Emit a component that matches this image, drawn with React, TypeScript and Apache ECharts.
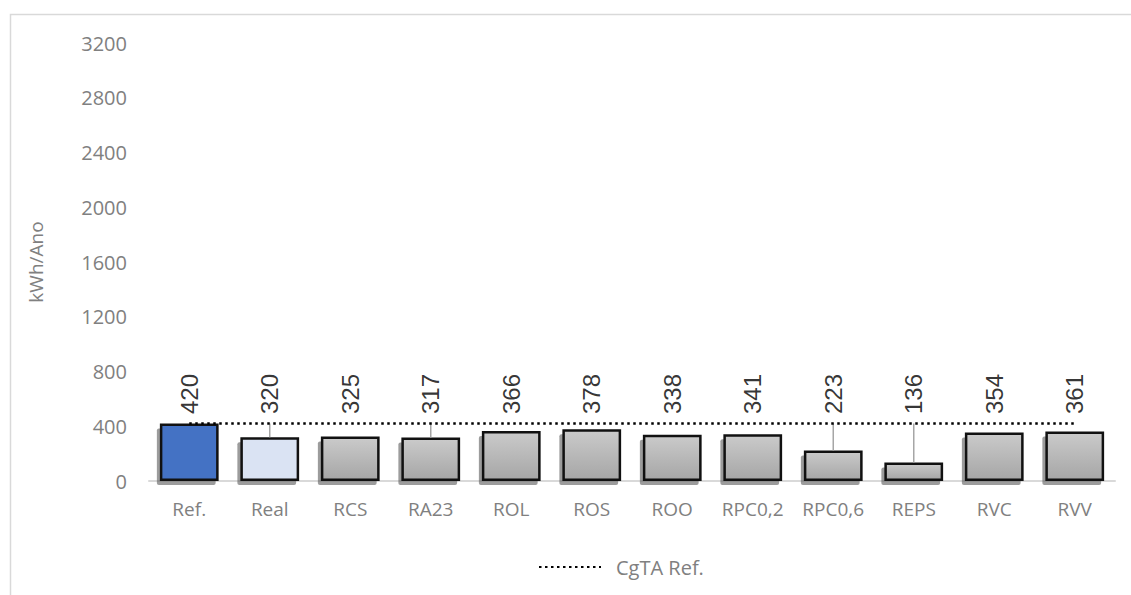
import React, { useEffect, useRef } from "react";
import * as echarts from "echarts";

const categories = ["Ref.", "Real", "RCS", "RA23", "ROL", "ROS", "ROO", "RPC0,2", "RPC0,6", "REPS", "RVC", "RVV"];
const values = [420, 320, 325, 317, 366, 378, 338, 341, 223, 136, 354, 361];
const cgtaRef = [420, 420, 420, 420, 420, 420, 420, 420, 420, 420, 420, 420];
const dropLineCats = ["Real", "RA23", "RPC0,6", "REPS"];
const yTicks = { min: 0, max: 3200, interval: 400 };

const grayGradient = () =>
  new echarts.graphic.LinearGradient(0, 0, 0, 1, [
    { offset: 0, color: "#cacaca" },
    { offset: 1, color: "#a6a6a6" },
  ]);

export default function App() {
  const ref = useRef<HTMLDivElement>(null);
  useEffect(() => {
    if (!ref.current) return;
    const chart = echarts.init(ref.current, undefined, { renderer: "svg" });
    const barData = values.map((v, i) => {
      let color: any = grayGradient();
      if (i === 0) color = "#4472c4";
      if (i === 1) color = "#dae3f3";
      return {
        value: v,
        itemStyle: { color, borderColor: "#111111", borderWidth: 2.5 },
      };
    });
    const shadowData = values.map((v, i) => [i, v]);
    const dropData = categories
      .map((c, i) => (dropLineCats.includes(c) ? [i, values[i], cgtaRef[i]] : null))
      .filter((d) => d !== null);

    chart.setOption({
      animation: false,
      backgroundColor: "#ffffff",
      graphic: [
        {
          type: "rect",
          left: 8,
          top: 12,
          shape: { width: 1300, height: 700 },
          style: { fill: "none", stroke: "#d9d9d9", lineWidth: 1.5 },
          silent: true,
          z: -10,
        },
      ],
      grid: { left: 149, right: 16, top: 43, bottom: 114 },
      legend: {
        show: true,
        top: 552,
        left: 533,
        data: ["CgTA Ref."],
        itemWidth: 62,
        itemHeight: 14,
        itemGap: 8,
        itemStyle: { opacity: 0 },
        textStyle: {
          color: "#808080",
          fontSize: 20,
          fontFamily: "Open Sans",
          padding: [0, 0, 0, 10],
        },
      },
      xAxis: {
        type: "category",
        data: categories,
        axisLine: { show: true, lineStyle: { color: "#d9d9d9", width: 2 } },
        axisTick: { show: false },
        axisLabel: {
          color: "#808080",
          fontSize: 19,
          fontFamily: "Open Sans",
          margin: 18,
          interval: 0,
        },
      },
      yAxis: {
        type: "value",
        min: yTicks.min,
        max: yTicks.max,
        interval: yTicks.interval,
        name: "kWh/Ano",
        nameLocation: "middle",
        nameGap: 104,
        nameTextStyle: { color: "#808080", fontSize: 19, fontFamily: "Open Sans" },
        axisLine: { show: false },
        axisTick: { show: false },
        splitLine: { show: false },
        axisLabel: {
          color: "#808080",
          fontSize: 20,
          fontFamily: "Open Sans",
          margin: 22,
          formatter: (v: number) => String(v),
        },
      },
      series: [
        {
          name: "shadow",
          type: "custom",
          data: shadowData,
          z: 1,
          renderItem: (params: any, api: any) => {
            const top = api.coord([api.value(0), api.value(1)]);
            const base = api.coord([api.value(0), 0]);
            const bw = api.size([1, 0])[0] * 0.73;
            return {
              type: "rect",
              shape: {
                x: top[0] - bw / 2 - 3,
                y: top[1] + 5,
                width: bw,
                height: base[1] - top[1] - 1,
                r: 2,
              },
              style: { fill: "rgba(90,90,90,0.6)" },
            };
          },
        },
        {
          name: "Values",
          type: "bar",
          data: barData,
          barCategoryGap: "27%",
          z: 2,
        },
        {
          name: "drop",
          type: "custom",
          data: dropData,
          z: 3,
          renderItem: (params: any, api: any) => {
            const p1 = api.coord([api.value(0), api.value(2)]);
            const p2 = api.coord([api.value(0), api.value(1)]);
            return {
              type: "line",
              shape: { x1: p1[0], y1: p1[1], x2: p2[0], y2: p2[1] },
              style: { stroke: "#a6a6a6", lineWidth: 1.5 },
            };
          },
        },
        {
          name: "CgTA Ref.",
          type: "line",
          data: cgtaRef,
          symbol: "none",
          showSymbol: false,
          z: 4,
          lineStyle: { color: "#000000", width: 2.5, type: [2.5, 3.5] },
          itemStyle: { color: "#000000" },
        },
        {
          name: "labels",
          type: "scatter",
          data: cgtaRef,
          symbolSize: 1,
          z: 5,
          itemStyle: { color: "transparent" },
          label: {
            show: true,
            position: "top",
            rotate: 90,
            align: "left",
            verticalAlign: "middle",
            distance: 9,
            color: "#000000",
            fontSize: 24,
            fontFamily: "Liberation Sans",
            formatter: (p: any) => String(values[p.dataIndex]),
          },
        },
      ],
    });
    return () => chart.dispose();
  }, []);
  return (
    <div
      ref={ref}
      style={{ position: "fixed", left: 0, top: 0, width: 1131, height: 595, background: "#fff" }}
    />
  );
}
